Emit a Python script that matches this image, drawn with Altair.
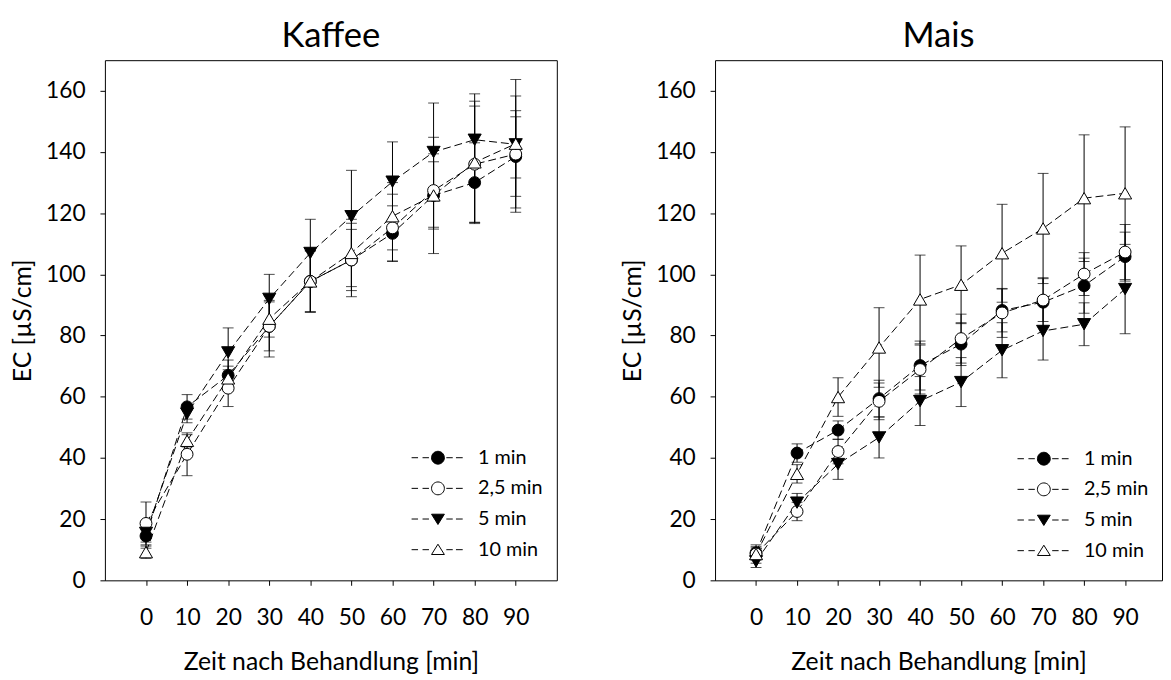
import altair as alt
import pandas as pd

FONT = "Lato"

minutes = [0, 10, 20, 30, 40, 50, 60, 70, 80, 90]
series_labels = ["1 min", "2,5 min", "5 min", "10 min"]

# Kaffee
kaffee_1 = [14.5, 56.7, 67.0, 83.0, 97.7, 104.7, 113.4, 125.8, 130.0, 138.5]
kaffee_1_sd = [4, 4, 5, 8, 10, 10, 9, 11, 13, 13]
kaffee_25 = [18.6, 41.2, 62.8, 83.0, 97.7, 104.7, 115.2, 127.4, 136.0, 139.3]
kaffee_25_sd = [7, 7, 6, 10, 10, 12, 11, 12, 19, 19]
kaffee_5 = [15.5, 54.5, 74.5, 92.0, 107.0, 119.0, 130.3, 140.0, 144.0, 142.5]
kaffee_5_sd = [3, 3, 8, 8, 11, 15, 13, 16, 15, 11]
kaffee_10 = [9.2, 45.6, 66.0, 85.5, 97.7, 107.0, 119.0, 125.8, 136.6, 142.7]
kaffee_10_sd = [2, 2, 4, 6, 10, 11, 11, 19, 20, 21]

# Mais
mais_1 = [9.0, 41.6, 49.1, 59.4, 70.2, 77.2, 88.2, 90.9, 96.3, 105.8]
mais_1_sd = [2, 3, 3, 6, 8, 7, 7, 8, 9, 8]
mais_25 = [8.6, 22.5, 42.1, 58.5, 68.9, 79.0, 87.4, 91.6, 100.1, 107.3]
mais_25_sd = [2, 3, 4, 6, 8, 8, 8, 7, 7, 9]
mais_5 = [6.2, 25.4, 38.0, 46.7, 58.6, 64.8, 75.2, 81.5, 83.7, 95.2]
mais_5_sd = [2, 3, 5, 6.7, 8, 8, 9, 9.5, 7, 14.6]
mais_10 = [8.6, 34.8, 59.9, 76.1, 91.8, 96.6, 106.9, 115.0, 124.9, 126.5]
mais_10_sd = [3, 3, 6.3, 13, 14.5, 12.7, 16, 18, 20.7, 21.7]

plot_shapes = ["circle", "circle", "triangle-down", "triangle-up"]
plot_sizes = [144, 144, 175, 175]
fills = ["black", "white", "black", "white"]

dashes = "M-4.1,0H-3.1M-2.4,0H-1.4M1.3,0H2.3M2.8,0H3.85"
legend_paths = [
    dashes + "M1,0A1,1,0,1,1,-1,0A1,1,0,1,1,1,0Z",
    dashes + "M1,0A1,1,0,1,1,-1,0A1,1,0,1,1,1,0Z",
    dashes + "M-1,-0.75L1,-0.75L0,0.85Z",
    dashes + "M0,-0.85L1,0.75L-1,0.75Z",
]

X_TITLE = "Zeit nach Behandlung [min]"
Y_TITLE = "EC [µS/cm]"


def panel(title, vals, sds, xmax, width, legend_x, legend_y):
    rows = []
    for s, v, sd in zip(series_labels, vals, sds):
        for m, a, b in zip(minutes, v, sd):
            rows.append(dict(series=s, minute=m, ec=a, lo=a - b, hi=a + b))
    df = pd.DataFrame(rows)
    base = alt.Chart(df)

    xs = alt.Scale(domain=[-10, xmax], nice=False, zero=False)
    ys = alt.Scale(domain=[0, 170], nice=False)
    xax = alt.Axis(values=minutes, labelPadding=21.8, titlePadding=20.5)
    yax = alt.Axis(values=list(range(0, 161, 20)), labelPadding=15, titlePadding=10)

    def X():
        return alt.X("minute:Q", scale=xs, axis=xax, title=X_TITLE)

    def Y(field):
        return alt.Y(field, scale=ys, axis=yax, title=Y_TITLE)

    lines = base.mark_line(strokeDash=[8, 4], color="black", strokeWidth=1).encode(
        x=X(), y=Y("ec:Q"), detail="series:N", order="minute:Q"
    )
    rules = base.mark_rule(color="black", strokeWidth=1).encode(
        x=X(), y=Y("lo:Q"), y2="hi:Q"
    )
    t_lo = base.mark_tick(orient="horizontal", size=11, thickness=1, color="black").encode(
        x=X(), y=Y("lo:Q")
    )
    t_hi = base.mark_tick(orient="horizontal", size=11, thickness=1, color="black").encode(
        x=X(), y=Y("hi:Q")
    )
    points = []
    for s, shp, fl, sz in zip(series_labels, plot_shapes, fills, plot_sizes):
        points.append(
            base.transform_filter(alt.datum.series == s)
            .mark_point(shape=shp, filled=True, fill=fl, stroke="black",
                        strokeWidth=1, size=sz, opacity=1)
            .encode(x=X(), y=Y("ec:Q"))
        )

    def leg():
        return alt.Legend(
            orient="none", legendX=legend_x, legendY=legend_y, title=None,
            labelFont=FONT, labelFontSize=20, labelColor="black",
            symbolSize=169, labelOffset=30.5, rowPadding=11, padding=0,
            symbolStrokeWidth=1, symbolOpacity=1,
        )

    legend_layer = base.transform_filter("false").mark_point(
        filled=True, stroke="black", strokeWidth=1, opacity=1
    ).encode(
        x=X(), y=Y("ec:Q"),
        shape=alt.Shape("series:N", scale=alt.Scale(domain=series_labels, range=legend_paths), legend=leg()),
        fill=alt.Fill("series:N", scale=alt.Scale(domain=series_labels, range=fills), legend=leg()),
    )

    return alt.layer(lines, rules, t_lo, t_hi, *points, legend_layer).properties(
        width=width,
        height=526,
        title=alt.Title(title, font=FONT, fontSize=35, fontWeight="normal",
                        color="black", baseline="bottom", offset=-28.4,
                        frame="group", anchor="middle"),
    )


left = panel("Kaffee",
             [kaffee_1, kaffee_25, kaffee_5, kaffee_10],
             [kaffee_1_sd, kaffee_25_sd, kaffee_5_sd, kaffee_10_sd],
             100, 457, 326.8, 392)
right = panel("Mais",
              [mais_1, mais_25, mais_5, mais_10],
              [mais_1_sd, mais_25_sd, mais_5_sd, mais_10_sd],
              99, 452, 322.5, 393)

chart = (
    alt.hconcat(left, right, spacing=63)
    .resolve_scale(shape="independent", fill="independent")
    .resolve_legend(shape="independent", fill="independent")
    .properties(padding={"left": 2, "top": 6, "right": 0, "bottom": 0},
                background="white")
    .configure_view(stroke="black", strokeWidth=1)
    .configure_axis(
        grid=False, domain=False, tickColor="black", tickSize=5, tickWidth=1,
        labelFont=FONT, labelFontSize=23, labelColor="black",
        titleFont=FONT, titleFontSize=25, titleFontWeight="normal", titleColor="black",
    )
)

chart.save("out.html", embed_options={"renderer": "svg", "actions": False})
